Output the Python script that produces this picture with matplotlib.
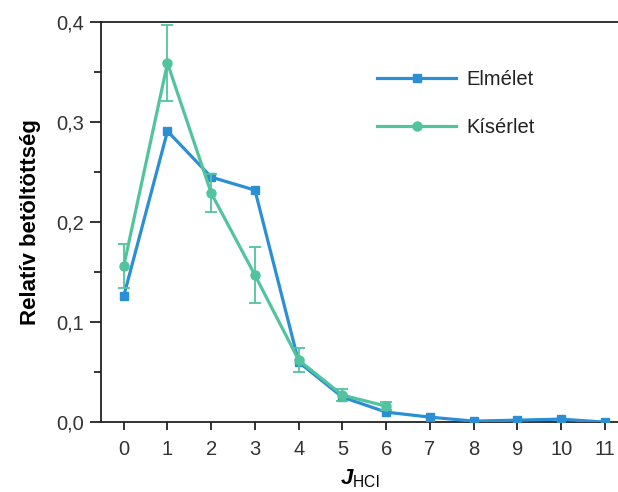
import numpy as np
import matplotlib.pyplot as plt
from matplotlib.lines import Line2D
from matplotlib.ticker import MultipleLocator, FuncFormatter

plt.rcParams['font.family'] = ['Liberation Sans', 'DejaVu Sans']
plt.rcParams['mathtext.fontset'] = 'custom'
plt.rcParams['mathtext.rm'] = 'Liberation Sans'
plt.rcParams['mathtext.bf'] = 'Liberation Sans:bold'
plt.rcParams['mathtext.bfit'] = 'Liberation Sans:bold:italic'

# data
j_theory = [0, 1, 2, 3, 4, 5, 6, 7, 8, 9, 10, 11]
elmelet = [0.126, 0.291, 0.245, 0.232, 0.060, 0.025, 0.010, 0.005, 0.001, 0.002, 0.003, 0.000]
j_exp = [0, 1, 2, 3, 4, 5, 6]
kiserlet = [0.156, 0.359, 0.229, 0.147, 0.062, 0.027, 0.016]
kiserlet_err = [0.022, 0.038, 0.019, 0.028, 0.012, 0.006, 0.004]

blue = '#2b8fd5'
teal = '#52c39f'

fig = plt.figure(figsize=(6.18, 4.92), dpi=100)
ax = fig.add_axes([0.163, 0.142, 0.837, 0.813])

ax.plot(j_theory, elmelet, color=blue, lw=2.3, marker='s', ms=5.5, zorder=3)
ax.errorbar(j_exp, kiserlet, yerr=kiserlet_err, color=teal, lw=2.3,
            marker='o', ms=6.5, elinewidth=1.3, capsize=4.5, capthick=1.3,
            zorder=4)

ax.set_xlim(-0.526, 11.3)
ax.set_ylim(0, 0.4)
ax.set_xticks(range(12))
ax.yaxis.set_major_locator(MultipleLocator(0.1))
ax.yaxis.set_minor_locator(MultipleLocator(0.05))
ax.yaxis.set_major_formatter(FuncFormatter(lambda v, p: f'{v:.1f}'.replace('.', ',')))

ax.spines['right'].set_visible(False)
for s in ['left', 'bottom', 'top']:
    ax.spines[s].set_linewidth(1.3)
    ax.spines[s].set_color('#222222')

ax.tick_params(axis='both', direction='out', labelsize=14.5, labelcolor='#333333',
               width=1.3, color='#222222')
ax.tick_params(axis='y', which='major', length=8, pad=4)
ax.tick_params(axis='y', which='minor', length=5, width=1.1)
ax.tick_params(axis='x', length=6, pad=7)

ax.set_ylabel('Relatív betöltöttség', fontsize=16, fontweight='bold', labelpad=11)
ax.set_xlabel(r'$\mathbfit{J}_{\mathregular{HCl}}$', fontsize=16, labelpad=6)

handles = [Line2D([], [], color=blue, lw=2.3, marker='s', ms=5.5),
           Line2D([], [], color=teal, lw=2.3, marker='o', ms=6.5)]
leg = ax.legend(handles, ['Elmélet', 'Kísérlet'], loc='upper left',
                bbox_to_anchor=(0.50, 0.925), frameon=False,
                fontsize=14.5, handlelength=3.9, handletextpad=0.5,
                labelspacing=1.45)
for t in leg.get_texts():
    t.set_color('#222222')

fig.savefig('out.png', dpi=100)
